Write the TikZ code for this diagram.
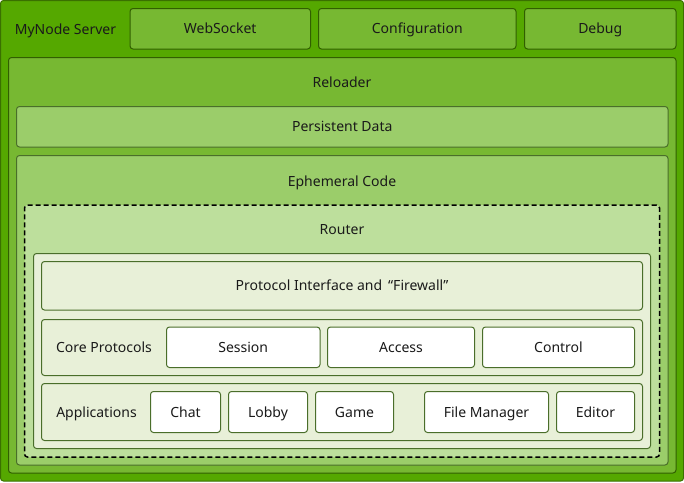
\documentclass[tikz,border=0pt]{standalone}
\usepackage{fontspec}
\setmainfont{Noto Sans}
\usetikzlibrary{fit}
\definecolor{cOuter}{HTML}{55A800}
\definecolor{cRel}{HTML}{77B832}
\definecolor{cEph}{HTML}{9BCD6A}
\definecolor{cRouter}{HTML}{BDDF9C}
\definecolor{cInner}{HTML}{E8F0D8}
\definecolor{cLineA}{HTML}{3A7000}
\definecolor{cLineB}{HTML}{4A6E2A}
\definecolor{cText}{HTML}{1A1A1A}
\tikzset{
  frm/.style={rectangle, rounded corners=3pt, line width=1pt, inner sep=0pt, outer sep=0pt},
  outerbox/.style={frm, draw=cLineA, fill=cOuter},
  relbox/.style={frm, draw=cLineA!85!black, fill=cRel},
  ephbox/.style={frm, draw=cLineB, fill=cEph},
  routerbox/.style={frm, draw=black, fill=cRouter, dash pattern=on 5pt off 3pt, line width=1.5pt},
  innerbox/.style={frm, draw=cLineB, fill=cInner},
  whitebox/.style={frm, draw=cLineB, fill=white},
  lbl/.style={inner sep=0pt, font=\fontsize{14pt}{16pt}\selectfont, text=cText, anchor=center, text height=10pt, text depth=0pt}
}
\begin{document}
\begin{tikzpicture}[x=1pt,y=-1pt]
\useasboundingbox (0,0) rectangle (684,482);
% outer
\node[outerbox, fit={(0.5,0.5) (683.5,481)}] (server) {};
\node[lbl] (serverlbl) at (65.5,29) {MyNode Server};
\node[relbox, fit={(130,8.5) (310.5,49)}, label={[lbl]center:WebSocket}] (ws) {};
\node[relbox, fit={(318.5,8.5) (516,49)}, label={[lbl]center:Configuration}] (cfg) {};
\node[relbox, fit={(524.5,8.5) (676,49)}, label={[lbl]center:Debug}] (dbg) {};
% reloader
\node[relbox, fit={(8.5,57.5) (676,473)}] (rel) {};
\node[lbl] (rellbl) at (342,82) {Reloader};
\node[ephbox, fit={(16.5,106.5) (668,147)}, label={[lbl]center:Persistent Data}] (pers) {};
\node[ephbox, fit={(16.5,155.5) (668,465)}] (eph) {};
\node[lbl] (ephlbl) at (342,181) {Ephemeral Code};
% router
\node[routerbox, fit={(24.5,205) (659.5,457)}] (router) {};
\node[lbl] (routerlbl) at (342,229.5) {Router};
\node[innerbox, fit={(33.5,253.5) (650.5,448.5)}] (inner) {};
\node[innerbox, fit={(41.5,261.5) (642.5,310)}, label={[lbl]center:Protocol Interface and \,“Firewall”}] (pif) {};
% core protocols
\node[innerbox, fit={(41.5,319.5) (642.5,375.5)}] (core) {};
\node[lbl] (corelbl) at (104,347.5) {Core Protocols};
\node[whitebox, fit={(166.5,327) (320,367.5)}, label={[lbl]center:Session}] (session) {};
\node[whitebox, fit={(327.5,327) (474.5,367.5)}, label={[lbl]center:Access}] (access) {};
\node[whitebox, fit={(482.5,327) (634.5,367.5)}, label={[lbl]center:Control}] (control) {};
% applications
\node[innerbox, fit={(41.5,383.5) (642.5,440.5)}] (apps) {};
\node[lbl] (appslbl) at (96.5,412) {Applications};
\node[whitebox, fit={(150.5,391.5) (220.5,432.5)}, label={[lbl]center:Chat}] (chat) {};
\node[whitebox, fit={(228.5,391.5) (307.5,432.5)}, label={[lbl]center:Lobby}] (lobby) {};
\node[whitebox, fit={(315.5,391.5) (393.5,432.5)}, label={[lbl]center:Game}] (game) {};
\node[whitebox, fit={(424.5,391.5) (548.5,432.5)}, label={[lbl]center:File Manager}] (fm) {};
\node[whitebox, fit={(556.5,391.5) (634.5,432.5)}, label={[lbl]center:Editor}] (editor) {};
\end{tikzpicture}
\end{document}
